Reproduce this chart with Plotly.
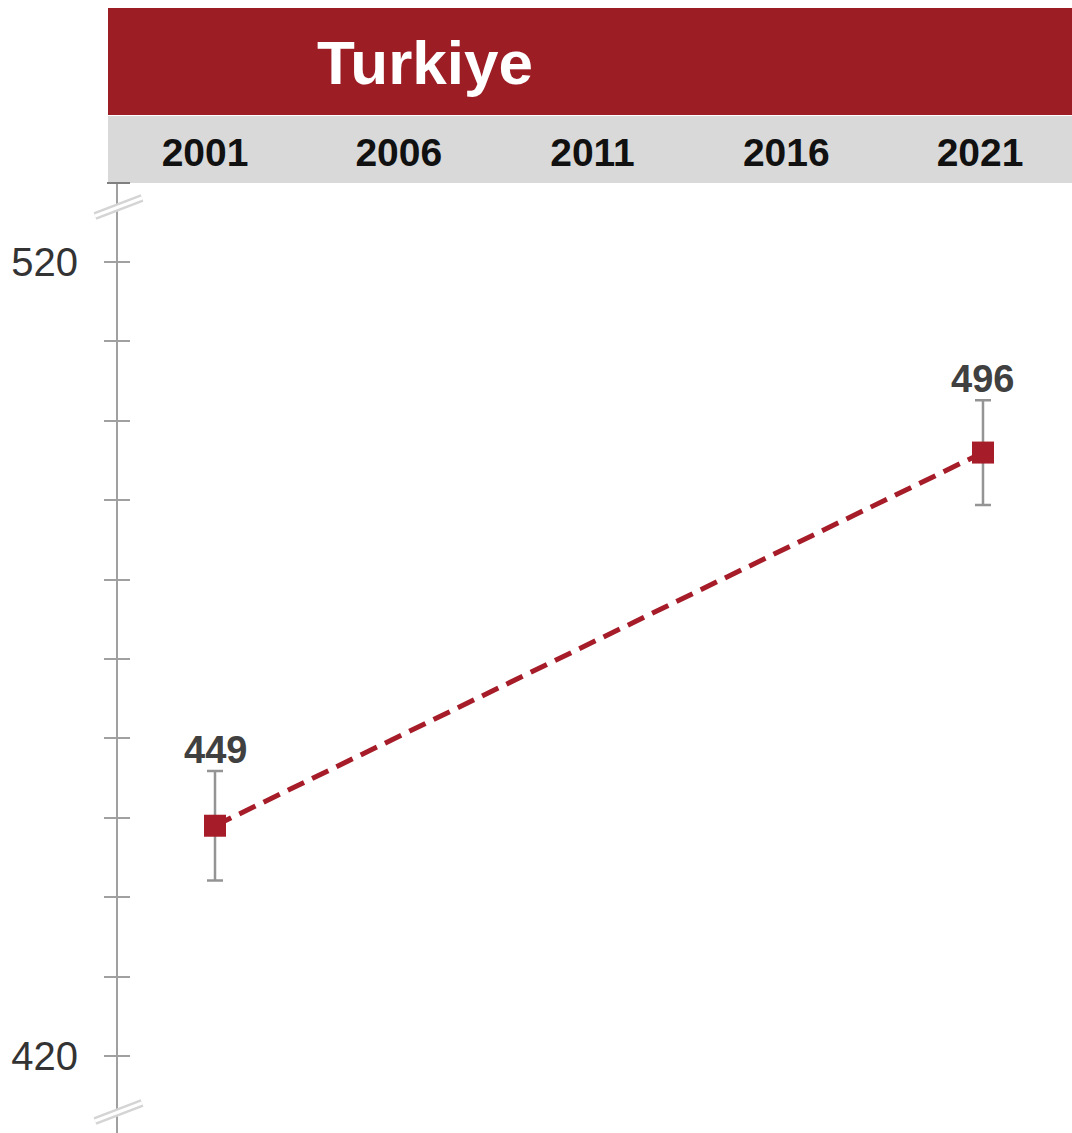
import plotly.graph_objects as go

# ---- data ----
country = "Turkiye"
years = [2001, 2021]
scores = [449, 496]
score_err = [6.9, 6.6]
header_years = [2001, 2006, 2011, 2016, 2021]
y_tick_vals = [420, 520]
y_minor_vals = [420, 430, 440, 450, 460, 470, 480, 490, 500, 510, 520]

RED = "#9D1D25"
MARK = "#A61C28"
GRAY_BAND = "#D9D9D9"
AXIS = "#A0A0A0"
FONT = "Liberation Sans, Arial, sans-serif"

W, H = 1072, 1133
L, T = 118, 183
PW, PH = W - L, H - T

def px(x):
    return (x - L) / PW

def py(y):
    return (H - y) / PH

fig = go.Figure()

fig.add_trace(go.Scatter(
    x=years, y=scores, mode="lines+markers",
    line=dict(color=MARK, width=5, dash="18px,9px"),
    marker=dict(symbol="square", size=22, color=MARK),
    error_y=dict(type="data", array=score_err, visible=True,
                 color="#949494", thickness=2.5, width=8),
    showlegend=False, hoverinfo="skip",
))

# dummy trace to activate secondary axes
fig.add_trace(go.Scatter(x=[header_years[0]], y=[y_tick_vals[0]], xaxis="x2", yaxis="y2",
                         mode="markers", marker=dict(opacity=0), showlegend=False,
                         hoverinfo="skip"))

# value labels above error bars
for yr, s, e in zip(years, scores, score_err):
    fig.add_annotation(x=yr, y=s + e, text=f"<b>{s}</b>", showarrow=False,
                       yanchor="bottom", yshift=-2,
                       font=dict(family=FONT, size=38, color="#404040"))

yr_range = [410.3, 529.95]

fig.update_layout(
    width=W, height=H,
    margin=dict(l=L, r=0, t=T, b=0, pad=0),
    paper_bgcolor="white", plot_bgcolor="white",
    xaxis=dict(range=[1998.474, 2023.318], visible=False, fixedrange=True),
    xaxis2=dict(range=[1998.755, 2023.374], overlaying="x", side="top", anchor="y",
                tickvals=header_years, ticktext=[str(v) for v in header_years],
                ticks="", showline=False, showgrid=False, zeroline=False,
                ticklabelstandoff=8,
                tickfont=dict(family=FONT, size=39, color="#111111", weight="bold")),
    yaxis=dict(range=yr_range, showgrid=False, zeroline=False,
               showline=True, linecolor=AXIS, linewidth=2,
               tickvals=y_minor_vals,
               ticktext=[str(v) if v in y_tick_vals else "" for v in y_minor_vals],
               ticks="outside", ticklen=12, tickwidth=1.5, tickcolor=AXIS,
               ticklabelstandoff=18,
               tickfont=dict(family=FONT, size=40, color="#333333")),
    yaxis2=dict(range=yr_range, overlaying="y", side="left", anchor="x",
                showgrid=False, zeroline=False, showline=False,
                tickvals=y_minor_vals, showticklabels=False,
                ticks="inside", ticklen=12, tickwidth=1.5, tickcolor=AXIS),
)

# header bands
fig.add_shape(type="rect", xref="paper", yref="paper",
              x0=px(108), x1=px(W), y0=py(115), y1=py(8),
              fillcolor=RED, line=dict(width=0), layer="below")
fig.add_shape(type="rect", xref="paper", yref="paper",
              x0=px(108), x1=px(W), y0=py(183), y1=py(116),
              fillcolor=GRAY_BAND, line=dict(width=0), layer="below")
fig.add_annotation(xref="paper", yref="paper", x=px(315), y=py(62),
                   xanchor="left", yanchor="middle", showarrow=False,
                   text=f"<b>{country}</b>",
                   font=dict(family=FONT, size=62, color="white"))

# top cap of axis
fig.add_shape(type="line", xref="paper", yref="paper",
              x0=px(107), x1=px(130), y0=py(183), y1=py(183),
              line=dict(color="#808080", width=2))

# axis break marks
for cy in (207, 1112):
    for w, c in ((8, "#D4D4D4"), (3, "white")):
        fig.add_shape(type="line", xref="paper", yref="paper",
                      x0=px(95), x1=px(142), y0=py(cy + 9), y1=py(cy - 9),
                      line=dict(color=c, width=w))

fig.write_html(
    "out.html",
    config={"displayModeBar": False},
    post_script="document.body.style.margin='0';document.body.style.overflow='hidden';",
)
